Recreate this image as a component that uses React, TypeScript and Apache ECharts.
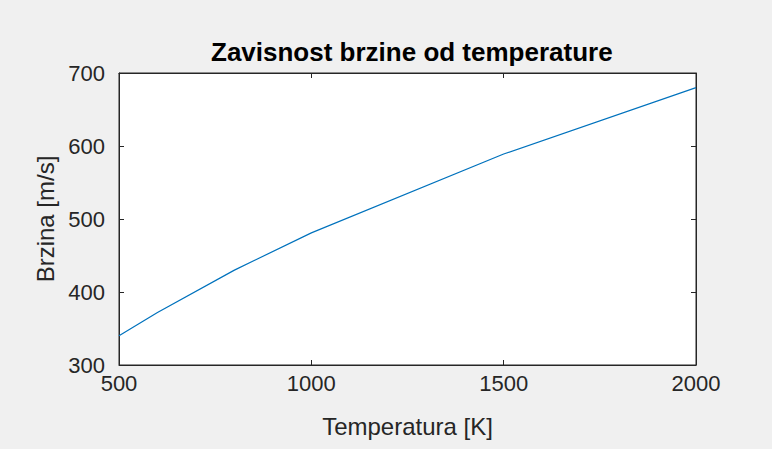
import React, { useEffect, useRef } from "react";
import * as echarts from "echarts";

const temperatures = [500, 600, 800, 1000, 1500, 2000];
const speeds = [340, 372, 430, 481, 589, 680];
const xTicks = [500, 1000, 1500, 2000];
const yTicks = [300, 400, 500, 600, 700];

const titleText = "Zavisnost brzine od temperature";
const xName = "Temperatura [K]";
const yName = "Brzina [m/s]";

const AXIS = "#262626";
const FONT = "'Liberation Sans', Arial, Helvetica, sans-serif";

export default function App() {
  const ref = useRef<HTMLDivElement>(null);
  useEffect(() => {
    if (!ref.current) return;
    const chart = echarts.init(ref.current, undefined, { renderer: "svg" });
    const data = temperatures.map((t, i) => [t, speeds[i]]);
    const tickStyle = { show: true, inside: true, length: 5, lineStyle: { color: AXIS, width: 1 } };
    const fmt = (v: number) => String(v);
    chart.setOption({
      animation: false,
      backgroundColor: "#f0f0f0",
      title: {
        text: titleText,
        left: 206,
        top: 34,
        textStyle: { fontFamily: FONT, fontSize: 26, fontWeight: "bold", color: "#000" },
      },
      grid: {
        left: 119,
        right: 76,
        top: 73,
        bottom: 84,
        show: true,
        backgroundColor: "#ffffff",
        borderColor: AXIS,
        borderWidth: 1,
      },
      xAxis: [
        {
          type: "value",
          min: xTicks[0],
          max: xTicks[xTicks.length - 1],
          interval: 500,
          position: "bottom",
          name: xName,
          nameLocation: "middle",
          nameGap: 49,
          nameTextStyle: { fontFamily: FONT, fontSize: 24, color: AXIS },
          axisLine: { show: true, lineStyle: { color: AXIS } },
          axisTick: tickStyle,
          axisLabel: { fontFamily: FONT, fontSize: 22, color: AXIS, margin: 7, formatter: fmt },
          splitLine: { show: false },
        },
        {
          type: "value",
          min: xTicks[0],
          max: xTicks[xTicks.length - 1],
          interval: 500,
          position: "top",
          axisLine: { show: true, lineStyle: { color: AXIS } },
          axisTick: tickStyle,
          axisLabel: { show: false },
          splitLine: { show: false },
        },
      ],
      yAxis: [
        {
          type: "value",
          min: yTicks[0],
          max: yTicks[yTicks.length - 1],
          interval: 100,
          position: "left",
          name: yName,
          nameLocation: "middle",
          nameGap: 60,
          nameTextStyle: { fontFamily: FONT, fontSize: 24, color: AXIS },
          axisLine: { show: true, lineStyle: { color: AXIS } },
          axisTick: tickStyle,
          axisLabel: { fontFamily: FONT, fontSize: 22, color: AXIS, margin: 14, formatter: fmt },
          splitLine: { show: false },
        },
        {
          type: "value",
          min: yTicks[0],
          max: yTicks[yTicks.length - 1],
          interval: 100,
          position: "right",
          axisLine: { show: true, lineStyle: { color: AXIS } },
          axisTick: tickStyle,
          axisLabel: { show: false },
          splitLine: { show: false },
        },
      ],
      series: [
        {
          type: "line",
          data,
          showSymbol: false,
          smooth: false,
          lineStyle: { color: "#0072BD", width: 1.2 },
          xAxisIndex: 0,
          yAxisIndex: 0,
        },
      ],
    });
    return () => chart.dispose();
  }, []);
  return <div ref={ref} style={{ width: 772, height: 449, position: "absolute", left: 0, top: 0 }} />;
}
